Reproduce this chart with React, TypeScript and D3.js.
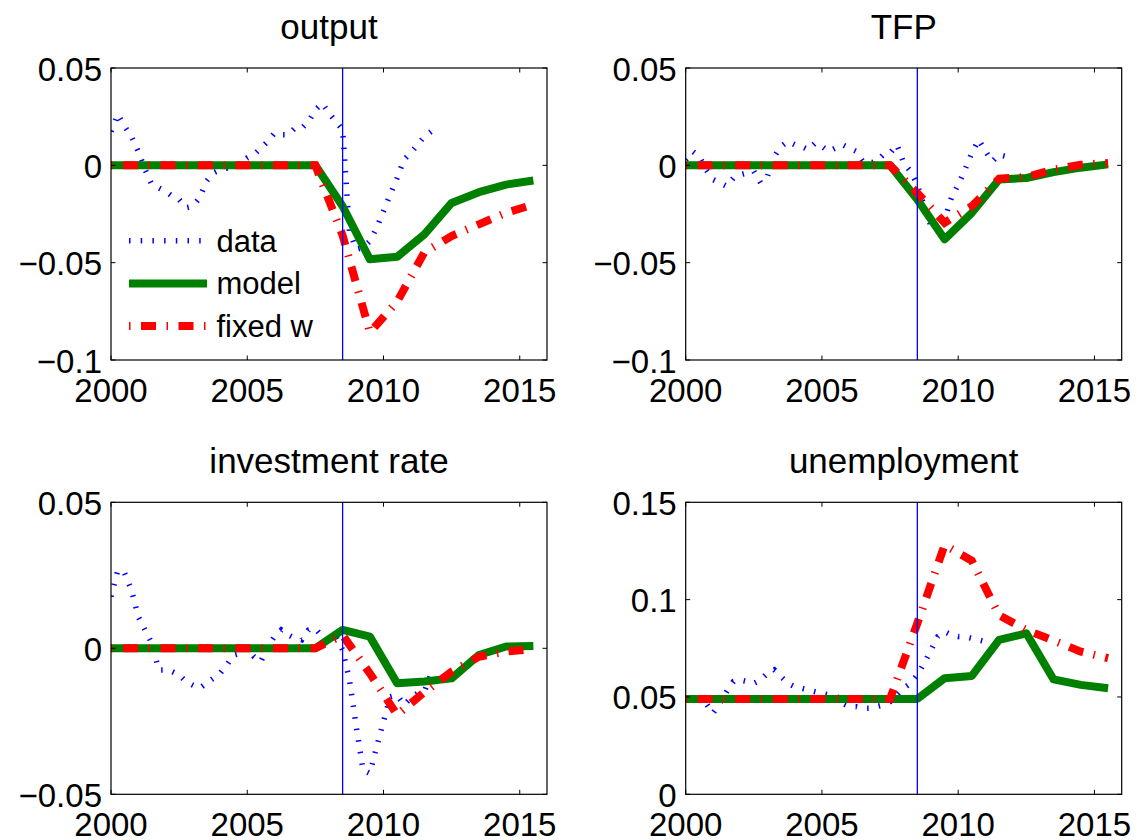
import React from "react";
import * as d3 from "d3";

// quarterly data series, 2000Q1 onwards
const OUTPUT_DATA = [0.0174, 0.0263, 0.020, 0.0148, 0.0072, -0.0022, -0.0099, -0.0116, -0.0133, -0.0159, -0.0176, -0.0218,
  -0.021, -0.0167, -0.0082, -0.0039, -0.0022, -0.0014, 0.0003, 0.0012, 0.0038, 0.0055, 0.0089, 0.0123,
  0.0165, 0.0157, 0.0157, 0.0191, 0.0191, 0.0225, 0.0285, 0.0319, 0.0268, 0.0225, 0.0183, -0.0338,
  -0.0432, -0.0423, -0.0389, -0.0321, -0.0235, -0.015, -0.0065, 0.0029, 0.0063, 0.0106, 0.0148, 0.0174];
const TFP_DATA = [0.0029, 0.0072, 0.0046, -0.0022, -0.0073, -0.009, -0.0107, -0.0065, -0.0048, -0.0039, -0.0031, -0.009,
  -0.0056, 0.0046, 0.0097, 0.0123, 0.0106, 0.0097, 0.008, 0.0114, 0.0097, 0.0072, 0.0089, 0.0106,
  0.0089, 0.0072, 0.002, 0.0012, 0.002, 0.0055, 0.0063, 0.0106, 0.0012, -0.0031, -0.0099, -0.021,
  -0.0312, -0.0338, -0.0278, -0.0167, -0.0099, -0.0022, 0.0063, 0.0131, 0.0072, 0.002, 0.0055, 0.0046];
const INV_DATA = [0.0177, 0.0268, 0.0257, 0.020, 0.0108, 0.0063, 0.0017, -0.0074, -0.0074, -0.008, -0.0091, -0.0114,
  -0.0126, -0.0137, -0.012, -0.0103, -0.0086, -0.0057, -0.0023, -0.0017, 0.0, -0.0029, -0.0046, 0.0006,
  0.004, 0.0063, 0.0046, 0.0034, 0.0029, 0.0063, 0.0068, 0.004, 0.0029, 0.004, -0.0006, -0.0108,
  -0.0268, -0.0417, -0.0428, -0.0337, -0.0251, -0.0166, -0.016, -0.0194, -0.0171, -0.0154, -0.0148, -0.0086];
const UNEMP_DATA = [0.0493, 0.0493, 0.0488, 0.0467, 0.0416, 0.0467, 0.0527, 0.0579, 0.0587, 0.0579, 0.057, 0.0587,
  0.0622, 0.0639, 0.0604, 0.057, 0.0553, 0.0545, 0.0536, 0.0527, 0.0519, 0.051, 0.051, 0.0467,
  0.045, 0.045, 0.0442, 0.0442, 0.045, 0.0459, 0.0476, 0.051, 0.0545, 0.057, 0.0613, 0.0673,
  0.0741, 0.081, 0.0836, 0.0818, 0.081, 0.081, 0.0801, 0.0793, 0.0784, 0.0759, 0.0741];

// annual model paths
const MODEL_YEARS = [2000, 2000.5, 2001.5, 2002.5, 2003.5, 2004.5, 2005.5, 2006.5, 2007.5,
  2008.5, 2009.5, 2010.5, 2011.5, 2012.5, 2013.5, 2014.5, 2015.5];
const OUTPUT_MODEL = [0, 0, 0, 0, 0, 0, 0, 0, 0, -0.021, -0.0483, -0.047, -0.0355, -0.0193, -0.0138, -0.0099, -0.0078];
const OUTPUT_FIXED = [0, 0, 0, 0, 0, 0, 0, 0, 0, -0.036, -0.0858, -0.070, -0.0447, -0.0363, -0.0303, -0.0244, -0.0201];
const TFP_MODEL = [0, 0, 0, 0, 0, 0, 0, 0, 0, -0.0176, -0.038, -0.0244, -0.0073, -0.0065, -0.0035, -0.0012, 0.0005];
const TFP_FIXED = [0, 0, 0, 0, 0, 0, 0, 0, 0, -0.0142, -0.0295, -0.021, -0.0068, -0.006, -0.0022, 0.0003, 0.0012];
const INV_MODEL = [0, 0, 0, 0, 0, 0, 0, 0, 0, 0.0063, 0.004, -0.012, -0.0114, -0.0103, -0.0023, 0.0006, 0.0008];
const INV_FIXED = [0, 0, 0, 0, 0, 0, 0, 0, 0, 0.0045, -0.0086, -0.0228, -0.015, -0.008, -0.0029, -0.0011, -0.0003];
const UNEMP_MODEL = [0.049, 0.049, 0.049, 0.049, 0.049, 0.049, 0.049, 0.049, 0.049, 0.049, 0.0596, 0.0608, 0.0793, 0.0827, 0.059, 0.0562, 0.0545];
const UNEMP_FIXED = [0.049, 0.049, 0.049, 0.049, 0.049, 0.049, 0.049, 0.049, 0.049, 0.0878, 0.128, 0.120, 0.092, 0.0844, 0.079, 0.0733, 0.0699];

const X_TICKS = [2000, 2005, 2010, 2015];
const TOP_Y_TICKS = [0.05, 0, -0.05, -0.1];
const INV_Y_TICKS = [0.05, 0, -0.05];
const UNEMP_Y_TICKS = [0.15, 0.1, 0.05, 0];
const BREAK_YEAR = 2008.5;
const LEGEND = ["data", "model", "fixed w"];

const FONT = "'Liberation Sans', Arial, Helvetica, sans-serif";
const PW = 436;
const PH = 292;

const fmt = (v: number) => (v < 0 ? "\u2212" + String(-v) : String(v));

function Panel({ id, title, left, top, data, model, fixed, yDomain, yTicks, legend }: any) {
  const x = d3.scaleLinear().domain([2000, 2016]).range([left, left + PW]);
  const y = d3.scaleLinear().domain(yDomain).range([top + PH, top]);
  const qYears = data.map((_: number, k: number) => 2000 + k / 4);
  const line = d3.line<[number, number]>().x((d) => x(d[0])).y((d) => y(d[1]));
  const dataPath = line(data.map((v: number, i: number) => [qYears[i], v]));
  const modelPath = line(model.map((v: number, i: number) => [MODEL_YEARS[i], v]));
  const fixedPath = line(fixed.map((v: number, i: number) => [MODEL_YEARS[i], v]));
  const bottom = top + PH;
  const right = left + PW;
  return (
    <g>
      <defs>
        <clipPath id={id}>
          <rect x={left} y={top} width={PW} height={PH} />
        </clipPath>
      </defs>
      <text x={left + PW / 2} y={top - 29} fontSize={35} textAnchor="middle" fontFamily={FONT}>{title}</text>
      <g clipPath={`url(#${id})`}>
        <path d={dataPath!} fill="none" stroke="#0000ff" strokeWidth={5.5} strokeDasharray="1.5 10.2" />
        <path d={modelPath!} fill="none" stroke="#008000" strokeWidth={8} strokeLinejoin="round" />
        <path d={fixedPath!} fill="none" stroke="#ff0000" strokeWidth={8} strokeDasharray="1.5 10.5 15 10.5" />
        <line x1={x(BREAK_YEAR)} x2={x(BREAK_YEAR)} y1={top} y2={bottom} stroke="#0000ff" strokeWidth={1.3} />
      </g>
      <rect x={left} y={top} width={PW} height={PH} fill="none" stroke="#000" strokeWidth={1.2} />
      {X_TICKS.map((t) => (
        <g key={t}>
          <line x1={x(t)} x2={x(t)} y1={bottom} y2={bottom - 4.5} stroke="#000" />
          <line x1={x(t)} x2={x(t)} y1={top} y2={top + 4.5} stroke="#000" />
          <text x={x(t)} y={bottom + 42} fontSize={33} textAnchor="middle" fontFamily={FONT}>{t}</text>
        </g>
      ))}
      {yTicks.map((t: number) => (
        <g key={t}>
          <line x1={left} x2={left + 4.5} y1={y(t)} y2={y(t)} stroke="#000" />
          <line x1={right} x2={right - 4.5} y1={y(t)} y2={y(t)} stroke="#000" />
          <text x={left - 9} y={y(t) + 12.5} fontSize={33} textAnchor="end" fontFamily={FONT}>{fmt(t)}</text>
        </g>
      ))}
      {legend && (
        <g>
          {LEGEND.map((name, i) => {
            const ly = 240.7 + i * 42.7;
            return (
              <g key={name}>
                {i === 0 && <line x1={129} x2={207} y1={ly} y2={ly} stroke="#0000ff" strokeWidth={5.5} strokeDasharray="1.5 10.2" />}
                {i === 1 && <line x1={129} x2={207} y1={ly} y2={ly} stroke="#008000" strokeWidth={8} />}
                {i === 2 && <line x1={129} x2={207} y1={ly} y2={ly} stroke="#ff0000" strokeWidth={8} strokeDasharray="1.5 10.5 15 10.5" />}
                <text x={216.5} y={ly + 11} fontSize={31} fontFamily={FONT}>{name}</text>
              </g>
            );
          })}
        </g>
      )}
    </g>
  );
}

export default function App() {
  return (
    <svg width={1138} height={840} style={{ position: "absolute", left: 0, top: 0, background: "#fff" }}>
      <rect width={1138} height={840} fill="#fff" />
      <Panel id="c1" title="output" left={111} top={68} data={OUTPUT_DATA} model={OUTPUT_MODEL} fixed={OUTPUT_FIXED}
        yDomain={[-0.1, 0.05]} yTicks={TOP_Y_TICKS} legend />
      <Panel id="c2" title="TFP" left={685.7} top={68} data={TFP_DATA} model={TFP_MODEL} fixed={TFP_FIXED}
        yDomain={[-0.1, 0.05]} yTicks={TOP_Y_TICKS} />
      <Panel id="c3" title="investment rate" left={111} top={502.3} data={INV_DATA} model={INV_MODEL} fixed={INV_FIXED}
        yDomain={[-0.05, 0.05]} yTicks={INV_Y_TICKS} />
      <Panel id="c4" title="unemployment" left={685.7} top={502.3} data={UNEMP_DATA} model={UNEMP_MODEL} fixed={UNEMP_FIXED}
        yDomain={[0, 0.15]} yTicks={UNEMP_Y_TICKS} />
    </svg>
  );
}
